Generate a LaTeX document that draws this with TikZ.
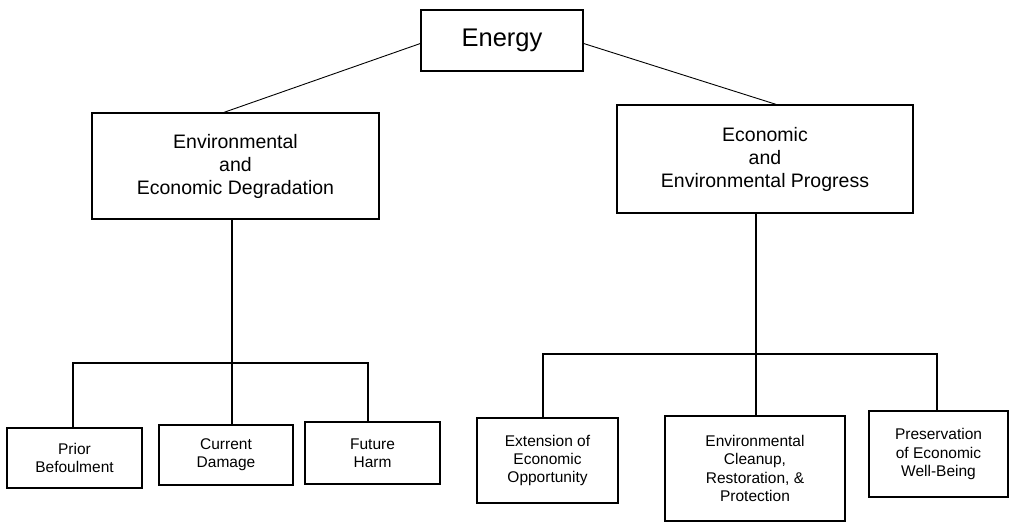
\documentclass[tikz,border=0pt]{standalone}
\usepackage{fontspec}
\setmainfont{Liberation Sans}
\usetikzlibrary{positioning}
\begin{document}
\begin{tikzpicture}[x=1pt,y=-1pt,
  box/.style={draw,line width=1.3pt,rectangle,inner sep=0pt,align=center},
  topbox/.style={box,font=\fontsize{25.5}{30}\selectfont},
  midbox/.style={box,font=\fontsize{19.5}{23}\selectfont},
  leafbox/.style={box,font=\fontsize{15.5}{18.3}\selectfont},
  link/.style={line width=1.1pt},
  diag/.style={line width=0.9pt}]
\useasboundingbox (0,0) rectangle (1012,524);

% root
\node[topbox,minimum width=162pt,minimum height=61pt] (energy) at (502,40.5) {Energy};

% second level
\node[midbox,minimum width=287pt,minimum height=106pt] (deg) at (235.5,166)
  {Environmental\\and\\Economic Degradation};
\node[midbox,minimum width=296pt,minimum height=108pt] (prog) at (765,159)
  {Economic\\and\\Environmental Progress};

% leaves under degradation
\node[leafbox,minimum width=135pt,minimum height=60pt] (prior) at (74.5,458) {Prior\\Befoulment};
\node[leafbox,minimum width=134pt,minimum height=60pt] (current) at (226,455) {Current\\Damage};
\node[leafbox,minimum width=135pt,minimum height=62pt] (future) at (372.5,453) {Future\\Harm};

% leaves under progress
\node[leafbox,minimum width=141pt,minimum height=85pt] (ext) at (547.5,460.5)
  {Extension of\\Economic\\Opportunity};
\node[leafbox,minimum width=180pt,minimum height=105pt] (clean) at (755,468.5)
  {Environmental\\Cleanup,\\Restoration, \&\\Protection};
\node[leafbox,minimum width=139pt,minimum height=86pt] (pres) at (938.5,454)
  {Preservation\\of Economic\\Well-Being};

% bus points
\coordinate (lbus) at (232,363);
\coordinate (rbus) at (756,354);

% root to second level
\draw[diag] ([yshift=-3pt]energy.west) -- ([xshift=-11.5pt]deg.north);
\draw[diag] ([yshift=-3pt]energy.east) -- ([xshift=11pt]prog.north);

% degradation branch
\draw[link] (deg.south -| lbus) -- (current.north -| lbus);
\draw[link] ([xshift=-1.5pt]prior.north) |- (lbus) -| ([xshift=-4.5pt]future.north);

% progress branch
\draw[link] (prog.south -| rbus) -- (clean.north -| rbus);
\draw[link] ([xshift=-4.5pt]ext.north) |- (rbus) -| ([xshift=-1.5pt]pres.north);
\end{tikzpicture}
\end{document}
